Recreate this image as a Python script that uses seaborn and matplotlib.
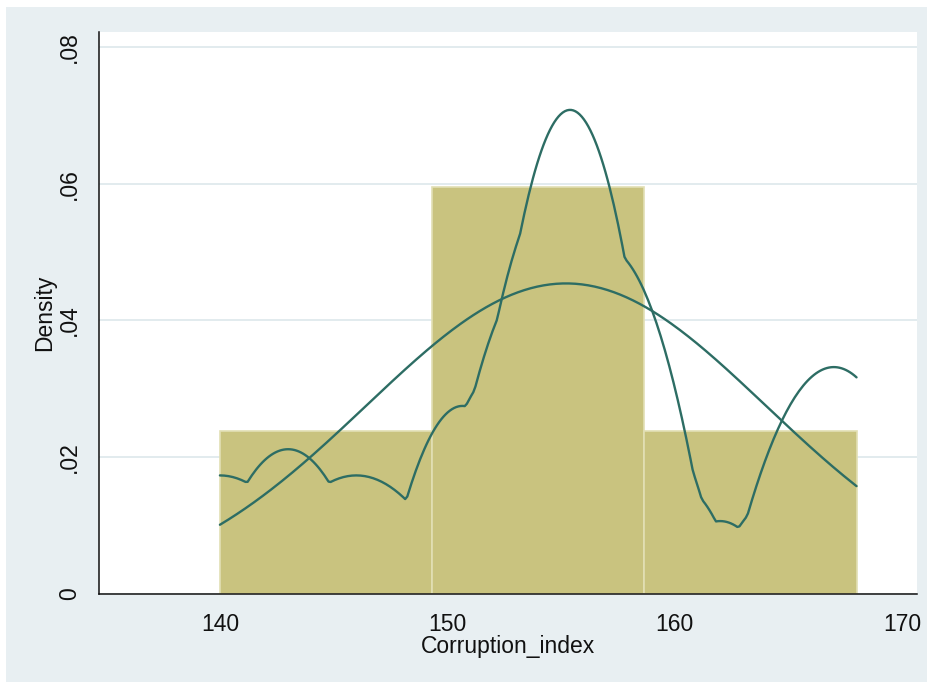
import numpy as np
import matplotlib
matplotlib.use("Agg")
import matplotlib.pyplot as plt
from matplotlib.patches import Rectangle
import seaborn as sns

# Observations
corruption_index = np.array([140, 146, 153, 153, 156, 157, 158, 166, 168], dtype=float)

# Histogram settings and axis ticks
n_bins = 3
x_ticks = [140, 150, 160, 170]
x_tick_labels = ["140", "150", "160", "170"]
y_ticks = [0.0, 0.02, 0.04, 0.06, 0.08]
y_tick_labels = ["0", ".02", ".04", ".06", ".08"]

x_label = "Corruption_index"
y_label = "Density"

# Colours
bar_fill = "#c9c37f"
bar_edge = "#e2dfb4"
line_color = "#2d6d64"
region_bg = "#e8eff2"
grid_color = "#dfe9ed"


def epanechnikov_kde(values, grid, h):
    """Epanechnikov kernel density with support +/- sqrt(5)*h."""
    z = (grid[:, None] - values[None, :]) / h
    k = np.where(np.abs(z) < np.sqrt(5), 0.75 * (1 - z ** 2 / 5) / np.sqrt(5), 0.0)
    return k.sum(axis=1) / (len(values) * h)


n = len(corruption_index)
mean = corruption_index.mean()
sd = corruption_index.std(ddof=1)
q25, q75 = np.percentile(corruption_index, [25, 75], method="inverted_cdf")
bandwidth = 0.9 * min(sd, (q75 - q25) / 1.349) * n ** (-0.2)

lo, hi = corruption_index.min(), corruption_index.max()
grid = np.linspace(lo, hi, 300)
kde_vals = epanechnikov_kde(corruption_index, grid, bandwidth)
normal_vals = np.exp(-0.5 * ((grid - mean) / sd) ** 2) / (sd * np.sqrt(2 * np.pi))

sns.set_style("white")
plt.rcParams["font.family"] = ["Liberation Sans", "DejaVu Sans"]

W, H = 928, 682
fig = plt.figure(figsize=(W / 100, H / 100), dpi=100, facecolor="white")
fig.patches.append(Rectangle((6 / W, 0), 1 - 6 / W, (H - 7) / H,
                             transform=fig.transFigure, facecolor=region_bg,
                             edgecolor="none", zorder=-10))

ax = fig.add_axes([99 / W, 1 - 594 / H, (917 - 99) / W, (594 - 32) / H])
ax.set_zorder(1)
ax.set_facecolor("white")

sns.histplot(x=corruption_index, bins=n_bins, binrange=(lo, hi), stat="density",
             color=bar_fill, edgecolor=bar_edge, linewidth=1.2, alpha=1.0, ax=ax,
             zorder=2)
sns.lineplot(x=grid, y=kde_vals, color=line_color, linewidth=1.7, sort=False,
             estimator=None, ax=ax, zorder=3)
sns.lineplot(x=grid, y=normal_vals, color=line_color, linewidth=1.7, sort=False,
             estimator=None, ax=ax, zorder=3)

x_px = 22.75  # pixels per unit on x
ax.set_xlim(140 - 121 / x_px, 170 + 15 / x_px)
ax.set_ylim(0, 0.02 * 562 / 136.8)

ax.set_xticks(x_ticks)
ax.set_xticklabels(x_tick_labels)
ax.set_yticks(y_ticks)
ax.set_yticklabels(y_tick_labels, rotation=90, va="center")

ax.tick_params(axis="both", which="major", direction="out", length=6.5, width=1.1,
               color="#111111", labelsize=16.5, labelcolor="#111111")
ax.tick_params(axis="x", pad=7.5)
ax.tick_params(axis="y", pad=6.5)

ax.yaxis.grid(True, color=grid_color, linewidth=1.3)
ax.xaxis.grid(False)
ax.set_axisbelow(True)

for side in ["top", "right"]:
    ax.spines[side].set_visible(False)
for side in ["left", "bottom"]:
    ax.spines[side].set_color("#111111")
    ax.spines[side].set_linewidth(1.1)

ax.set_xlabel(x_label, fontsize=16.5, color="#111111", va="center")
ax.set_ylabel(y_label, fontsize=16.5, color="#111111", va="center")
ax.xaxis.set_label_coords(0.5, (594 - 647) / 562)
ax.yaxis.set_label_coords((45 - 99) / 818, 0.5)

fig.savefig("out.png", dpi=100)
